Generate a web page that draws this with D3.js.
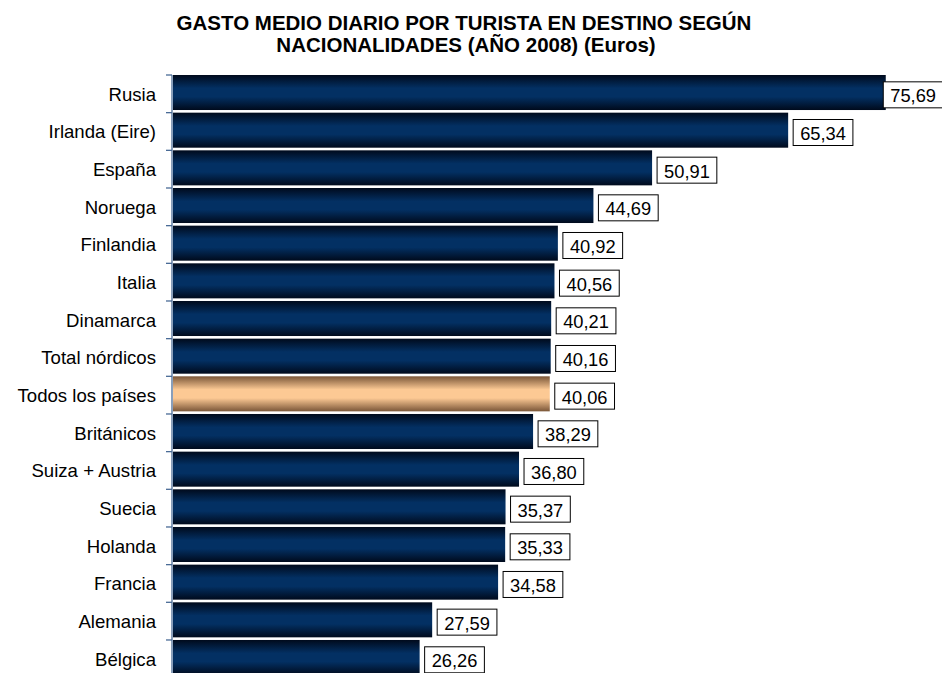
<!DOCTYPE html>
<html>
<head>
<meta charset="UTF-8">
<title>Gasto medio diario por turista</title>
<script src="https://cdn.jsdelivr.net/npm/d3@7"></script>
<style>
  body { margin: 0; background: #fff; font-family: 'Liberation Sans', Arial, sans-serif; }
  svg { display: block; }
</style>
</head>
<body>
<div id="chart"></div>
<script>
// datos
const paises = ["Rusia", "Irlanda (Eire)", "España", "Noruega", "Finlandia", "Italia",
  "Dinamarca", "Total nórdicos", "Todos los países", "Británicos", "Suiza + Austria",
  "Suecia", "Holanda", "Francia", "Alemania", "Bélgica"];
const gasto = [75.69, 65.34, 50.91, 44.69, 40.92, 40.56, 40.21, 40.16, 40.06,
  38.29, 36.80, 35.37, 35.33, 34.58, 27.59, 26.26];
const destacado = ["Todos los países"];

const width = 942, height = 673;
const margin = { top: 75, left: 172, right: 15 };

const svg = d3.select("#chart").append("svg")
  .attr("width", width)
  .attr("height", height);

// degradados tipo Excel (oscuro arriba y abajo)
const defs = svg.append("defs");
function degradado(id, borde, centro) {
  const g = defs.append("linearGradient")
    .attr("id", id).attr("x1", 0).attr("y1", 0).attr("x2", 0).attr("y2", 1);
  [[0, borde], [0.38, centro], [0.62, centro], [1, borde]].forEach(s => {
    g.append("stop").attr("offset", s[0]).attr("stop-color", s[1]);
  });
}
degradado("azul", "#000a1c", "#033063");
degradado("melocoton", "#7a5638", "#fcc994");

const y = d3.scaleBand()
  .domain(paises)
  .range([margin.top, margin.top + paises.length * 37.5])
  .paddingInner(0.07)
  .paddingOuter(0)
  .align(0);

const x = d3.scaleLinear()
  .domain([0, 80])
  .range([margin.left, margin.left + 80 * 9.43]);

// título
svg.append("text")
  .attr("x", 464).attr("y", 30)
  .attr("text-anchor", "middle")
  .style("font-size", "20.5px").style("font-weight", "bold")
  .text("GASTO MEDIO DIARIO POR TURISTA EN DESTINO SEGÚN");
svg.append("text")
  .attr("x", 466).attr("y", 52)
  .attr("text-anchor", "middle")
  .style("font-size", "20.5px").style("font-weight", "bold")
  .text("NACIONALIDADES (AÑO 2008) (Euros)");

// barras
svg.selectAll("rect.barra")
  .data(paises)
  .enter().append("rect")
  .attr("class", "barra")
  .attr("x", x(0) + 1)
  .attr("y", d => y(d))
  .attr("width", (d, i) => x(gasto[i]) - x(0) - 1)
  .attr("height", y.bandwidth())
  .attr("fill", d => destacado.includes(d) ? "url(#melocoton)" : "url(#azul)");

// eje vertical con marcas entre categorías
const step = y.step();
const eje = d3.axisLeft(y).tickSize(0).tickPadding(16);
const gEje = svg.append("g")
  .attr("transform", "translate(" + x(0) + "," + (step * 0.035 + 1) + ")")
  .call(eje);
gEje.select(".domain").remove();
gEje.selectAll("text")
  .style("font-size", "18.6px")
  .style("font-family", "'Liberation Sans', Arial, sans-serif")
  .attr("fill", "#000");

svg.append("line")
  .attr("x1", x(0)).attr("x2", x(0))
  .attr("y1", margin.top).attr("y2", height)
  .attr("stroke", "#4a6b96").attr("stroke-width", 1.3);
svg.selectAll("line.marca")
  .data(d3.range(paises.length))
  .enter().append("line")
  .attr("class", "marca")
  .attr("x1", x(0) - 6).attr("x2", x(0))
  .attr("y1", i => margin.top + i * step)
  .attr("y2", i => margin.top + i * step)
  .attr("stroke", "#4a6b96").attr("stroke-width", 1.3);

// etiquetas de valor en recuadro
const etiquetas = svg.selectAll("g.etiqueta")
  .data(paises)
  .enter().append("g")
  .attr("class", "etiqueta");

etiquetas.each(function (d, i) {
  const g = d3.select(this);
  const txt = g.append("text")
    .style("font-size", "18.3px")
    .attr("dominant-baseline", "central")
    .text(d3.format(".2f")(gasto[i]).replace(".", ","));
  const w = txt.node().getComputedTextLength() + 14;
  const h = 26;
  let bx = x(gasto[i]) + 5;
  if (bx + w > width - 1) bx = width - w + 1;
  const cy = y(d) + step / 2 + 1;
  g.insert("rect", "text")
    .attr("x", bx).attr("y", cy - h / 2)
    .attr("width", w).attr("height", h)
    .attr("fill", "#fff").attr("stroke", "#000").attr("stroke-width", 1);
  txt.attr("x", bx + 7).attr("y", cy + 1);
});
</script>
</body>
</html>
